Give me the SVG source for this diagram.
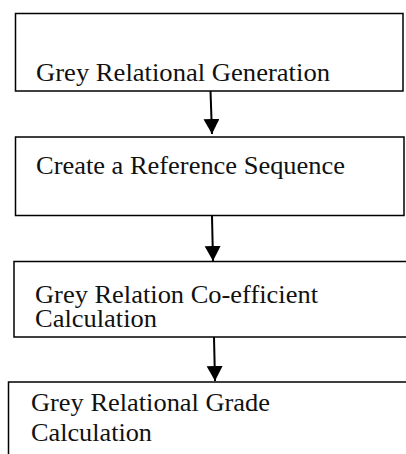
<svg xmlns="http://www.w3.org/2000/svg" width="406" height="454" viewBox="0 0 406 454">
<style>
.box{fill:#fff;stroke:#000;stroke-width:1.5}
.t{font-family:"Liberation Serif","Times New Roman",serif;font-size:25.5px;fill:#111}
.c{stroke:#000;stroke-width:2;fill:none}
</style>
<defs>
<marker id="ah" markerUnits="userSpaceOnUse" markerWidth="16" markerHeight="17" refX="15" refY="8" orient="auto">
<path d="M0,0 L15,8 L0,16 Z" fill="#000"/>
</marker>
</defs>
<rect width="406" height="454" fill="#fff"/>
<g id="n1">
<rect class="box" x="15.5" y="13.5" width="387.5" height="77.5"/>
<text class="t" x="36" y="80.5" textLength="294" lengthAdjust="spacingAndGlyphs">Grey Relational Generation</text>
</g>
<g id="n2">
<rect class="box" x="15.5" y="137" width="388.5" height="78.5"/>
<text class="t" x="36" y="173.5" textLength="309" lengthAdjust="spacingAndGlyphs">Create a Reference Sequence</text>
</g>
<g id="n3">
<rect class="box" x="14" y="261.5" width="400" height="75.5"/>
<text class="t" x="35" y="303" textLength="283" lengthAdjust="spacingAndGlyphs">Grey Relation Co-efficient</text>
<text class="t" x="35" y="326.5" textLength="122" lengthAdjust="spacingAndGlyphs">Calculation</text>
</g>
<g id="n4">
<rect class="box" x="8.5" y="382" width="410" height="90"/>
<text class="t" x="31" y="411" textLength="239" lengthAdjust="spacingAndGlyphs">Grey Relational Grade</text>
<text class="t" x="31" y="441" textLength="121" lengthAdjust="spacingAndGlyphs">Calculation</text>
</g>
<g id="connectors">
<line class="c" x1="210.5" y1="91" x2="212" y2="134" marker-end="url(#ah)"/>
<line class="c" x1="212" y1="216" x2="213" y2="261" marker-end="url(#ah)"/>
<line class="c" x1="214" y1="337" x2="215" y2="381" marker-end="url(#ah)"/>
</g>
</svg>
